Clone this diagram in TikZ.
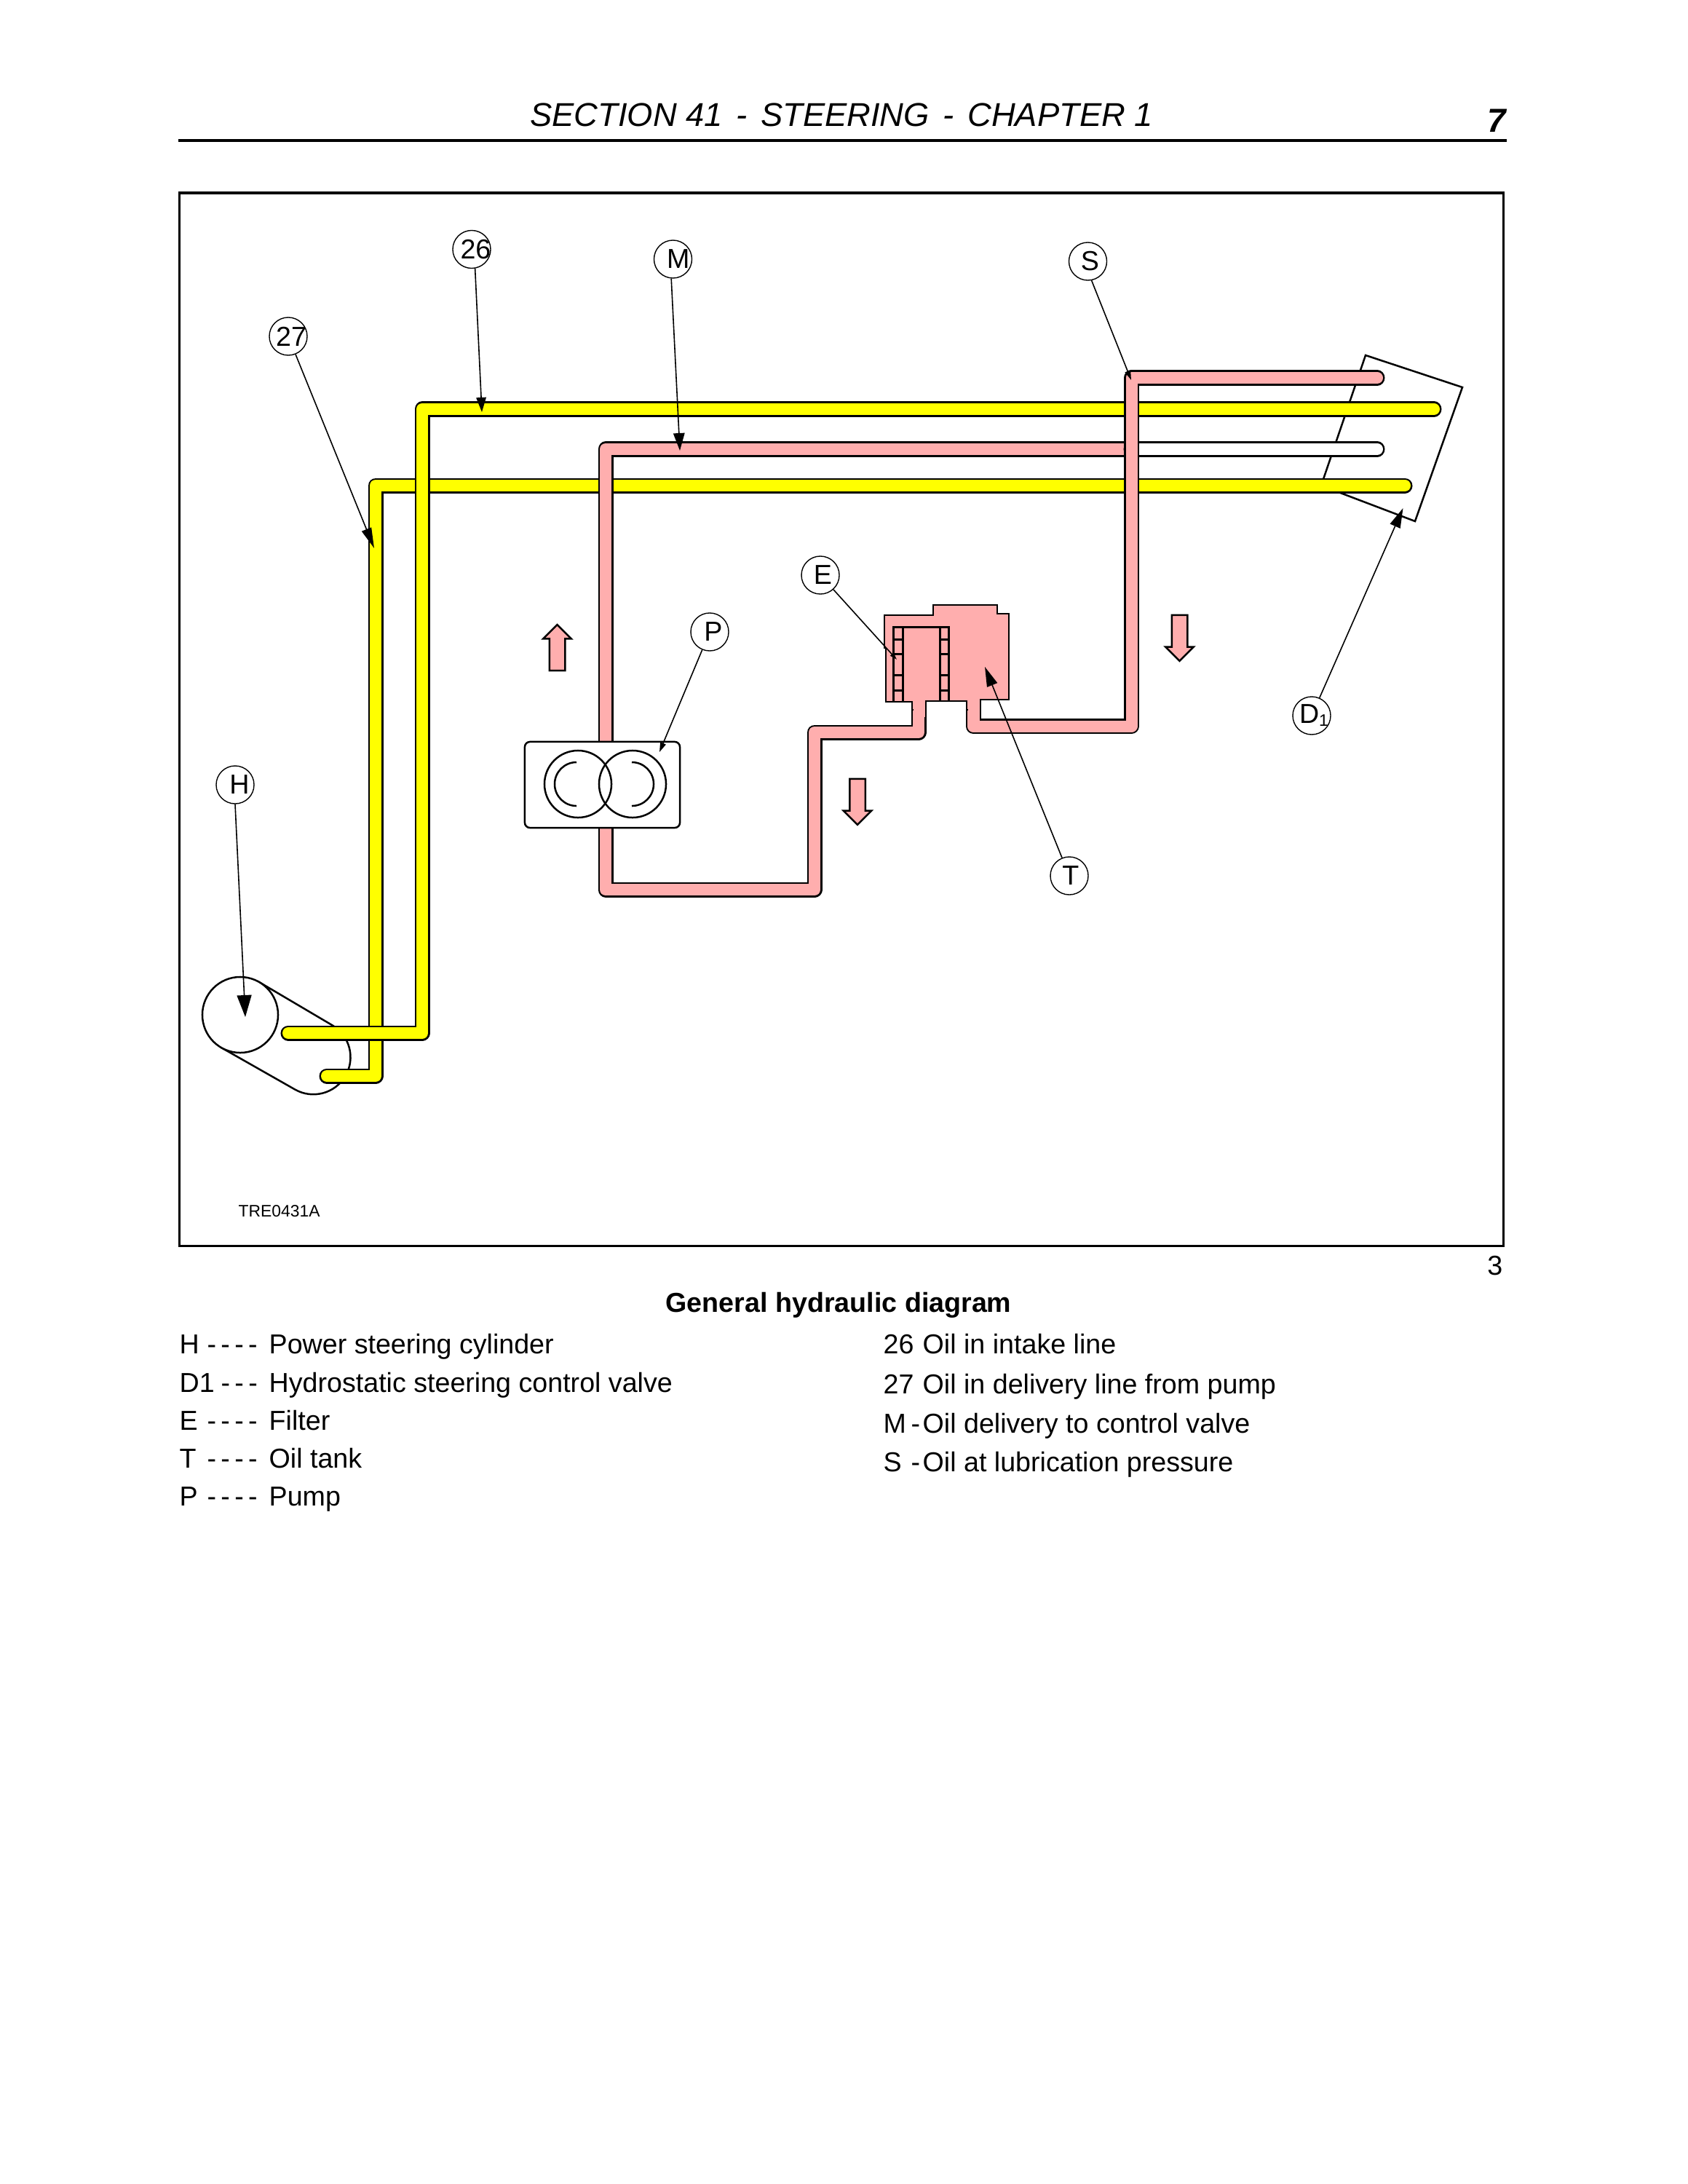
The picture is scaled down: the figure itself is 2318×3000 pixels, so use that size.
\documentclass[tikz,border=0pt]{standalone}
\usepackage{fontspec}
\setmainfont{Liberation Sans}
\usepackage{xcolor}
\usetikzlibrary{arrows.meta, positioning, shapes.arrows}
\definecolor{oilYellow}{RGB}{255,255,0}
\definecolor{oilPink}{RGB}{255,174,174}
\newcommand{\legendsize}{\fontsize{10.7}{12}\selectfont}
\newcommand{\calloutText}[2]{\makebox[0pt]{\hspace*{#1}\raisebox{-0.6pt}{#2}}}
\tikzset{
    pipeYellow/.style={line width=0.025cm, double=oilYellow, double distance=0.16cm, line cap=round, line join=round},
    pipePink/.style={line width=0.025cm, double=oilPink, double distance=0.16cm, line cap=round, line join=round},
    pipeWhite/.style={line width=0.025cm, double=white, double distance=0.16cm, line cap=round, line join=round},
    callout/.style={circle, draw, fill=white, line width=0.014cm, minimum size=0.52cm, inner sep=0pt, font=\legendsize},
    leader/.style 2 args={-{Triangle[length=#1,width=#2]}, line width=0.016cm},
    flowArrow/.style={single arrow, draw, fill=oilPink, line width=0.025cm, minimum height=0.63cm, minimum width=0.37cm,
        single arrow head extend=0.085cm, single arrow tip angle=90, single arrow head indent=0cm, inner sep=0.095cm},
    legendItem/.style={anchor=base west, inner sep=0pt, font=\legendsize},
    unitLine/.style={line width=0.025cm},
    filterLine/.style={line width=0.03cm}
}
\begin{document}
\begin{tikzpicture}[x=0.01cm, y=-0.01cm]
    \useasboundingbox (0,0) rectangle (2318,3000);
    % page head
    \node[anchor=base, inner sep=0pt, font=\fontsize{12.9}{15}\selectfont\itshape] (head) at (1156,173) {SECTION 41\hspace{1.7pt} - \hspace{1.7pt}STEERING\hspace{1.7pt} - \hspace{1.7pt}CHAPTER 1};
    \node[anchor=base east, inner sep=0pt, font=\fontsize{13}{15}\selectfont\bfseries\itshape] (pageNo) at (2070,182) {7};
    \draw[line width=0.04cm] (245,193) -- (2070,193);
    \draw[line width=0.03cm] (246,265) rectangle (2065,1711);
    \node[anchor=base east, inner sep=0pt, font=\legendsize] (figNo) at (2065,1751) {3};
    \node[anchor=base west, inner sep=0pt, font=\fontsize{6.5}{8}\selectfont] (figCode) at (327,1671) {TRE0431A};

    % pipe ends
    \coordinate (cyl26) at (396,1419);
    \coordinate (cyl27) at (449,1478);
    \coordinate (valve26) at (1970,562);
    \coordinate (valve27) at (1930,667);
    \coordinate (valveM) at (1892,617);
    \coordinate (valveS) at (1892,519);
    \coordinate (pumpOut) at (832,1030);
    \coordinate (pumpIn) at (832,1125);
    \coordinate (tankIn) at (1262,955);
    \coordinate (tankOut) at (1337,955);

    % power steering cylinder
    \draw[unitLine, fill=white] (356,1349) -- (456,1408) arc[start angle=60, end angle=-120, radius=0.51cm] -- (304,1439) -- cycle;
    \node[circle, draw, fill=white, line width=0.025cm, minimum size=1.04cm, inner sep=0pt] (cylinder) at (330,1394) {};

    % control valve
    \draw[unitLine] (1876,488) -- (2009,532) -- (1944,716) -- (1815,667) -- cycle;

    % lines
    \draw[pipeYellow] (cyl27) -- (516,1478) -- (516,667) -- (valve27);
    \draw[pipeYellow] (cyl26) -- (580,1419) -- (580,562) -- (valve26);
    \draw[pipePink] (pumpOut) -- (832,617) -- (1554,617);
    \draw[pipeWhite] (1554,617) -- (valveM);
    \draw[pipePink] (tankOut) -- (1337,997.5) -- (1554.5,997.5) -- (1554.5,519) -- (valveS);
    \draw[pipePink] (pumpIn) -- (832,1222) -- (1119,1222) -- (1119,1006) -- (1262,1006) -- (tankIn);

    % pump
    \node[rectangle, draw, fill=white, rounded corners=2pt, line width=0.025cm, minimum width=2.13cm, minimum height=1.18cm, inner sep=0pt] (pump) at (827.5,1078) {};
    \draw[unitLine] (794,1077) circle[radius=0.46cm];
    \draw[unitLine] (869,1077) circle[radius=0.46cm];
    \draw[unitLine] (792,1047) arc[start angle=90, end angle=270, radius=0.30cm];
    \draw[unitLine] (868,1047) arc[start angle=90, end angle=-90, radius=0.30cm];

    % oil tank and filter
    \draw[unitLine, fill=oilPink] (1215,845) -- (1282,845) -- (1282,831) -- (1370,831) -- (1370,843) -- (1386,843) -- (1386,961)
        -- (1347,961) -- (1347,975) -- (1328,975) -- (1328,963) -- (1272,963) -- (1272,975) -- (1253,975) -- (1253,964) -- (1217,964) -- (1217,890) -- (1215,890) -- cycle;
    \fill[oilPink] (1254.5,955) rectangle (1270.5,985);
    \fill[oilPink] (1329.5,955) rectangle (1345.5,990);
    \draw[filterLine] (1227,963) -- (1227,861) -- (1303,861) -- (1303,963);
    \draw[filterLine] (1240,861) -- (1240,963);
    \draw[filterLine] (1291,861) -- (1291,963);
    \draw[filterLine] (1227,878) -- (1240,878);
    \draw[filterLine] (1227,898) -- (1240,898);
    \draw[filterLine] (1227,927) -- (1240,927);
    \draw[filterLine] (1227,948) -- (1240,948);
    \draw[filterLine] (1291,878) -- (1303,878);
    \draw[filterLine] (1291,898) -- (1303,898);
    \draw[filterLine] (1291,927) -- (1303,927);
    \draw[filterLine] (1291,948) -- (1303,948);

    % flow direction
    \node[flowArrow, rotate=90] (flowUp) at (765.5,895) {};
    \node[flowArrow, rotate=-90] (flowDownLeft) at (1178,1096) {};
    \node[flowArrow, rotate=-90] (flowDownRight) at (1620.5,871) {};

    % callouts
    \node[callout] (n26) at (648,342.5) {\calloutText{3.1pt}{26}};
    \node[callout] (n27) at (396,462) {\calloutText{2.3pt}{27}};
    \node[callout] (nM) at (924.5,356) {\calloutText{4.2pt}{M}};
    \node[callout] (nS) at (1494.5,359) {\calloutText{1.7pt}{S}};
    \node[callout] (nE) at (1127,790) {\calloutText{2pt}{E}};
    \node[callout] (nP) at (975,868) {\calloutText{2.8pt}{P}};
    \node[callout] (nT) at (1469,1203) {\calloutText{1.1pt}{T}};
    \node[callout] (nH) at (323,1078) {\calloutText{3.4pt}{H}};
    \node[callout] (nD) at (1802,983) {\calloutText{1.7pt}{D\raisebox{-0.2ex}{\fontsize{6.5}{7}\selectfont 1}}};
    \coordinate (tip26) at (662,566);
    \coordinate (tip27) at (514,753);
    \coordinate (tipM) at (934,619);
    \coordinate (tipS) at (1554,522);
    \coordinate (tipE) at (1232,906);
    \coordinate (tipP) at (906,1033);
    \coordinate (tipT) at (1353,916);
    \coordinate (tipH) at (337,1397);
    \coordinate (tipD) at (1927.5,698);
    \draw[leader={2mm}{1.35mm}] (n26.-80) -- (tip26);
    \draw[leader={2.8mm}{1.4mm}] (n27) -- (tip27);
    \draw[leader={2.4mm}{1.55mm}] (nM.-95) -- (tipM);
    \draw[leader={1.3mm}{0.8mm}] (nS.-79) -- (tipS);
    \draw[leader={1mm}{0.6mm}] (nE) -- (tipE);
    \draw[leader={1.3mm}{0.8mm}] (nP) -- (tipP);
    \draw[leader={2.7mm}{1.5mm}] (nT) -- (tipT);
    \draw[leader={3mm}{2mm}] (nH.south) -- (tipH);
    \draw[leader={2.7mm}{1.5mm}] (nD) -- (tipD);

    % caption and legend
    \node[legendItem, font=\legendsize\bfseries] (caption) at (914,1802) {General hydraulic diagram};
    \node[legendItem] (keyH) at (246,1859) {H};
    \node[legendItem] (dashH) at (284,1859) {-\,-\,-\,-};
    \node[legendItem] (textH) at (369,1859) {Power steering cylinder};
    \node[legendItem] (keyD) at (246,1912) {D1};
    \node[legendItem] (dashD) at (303,1912) {-\,-\,-};
    \node[legendItem] (textD) at (369,1912) {Hydrostatic steering control valve};
    \node[legendItem] (keyE) at (246,1964) {E};
    \node[legendItem] (dashE) at (284,1964) {-\,-\,-\,-};
    \node[legendItem] (textE) at (369,1964) {Filter};
    \node[legendItem] (keyT) at (246,2016) {T};
    \node[legendItem] (dashT) at (284,2016) {-\,-\,-\,-};
    \node[legendItem] (textT) at (369,2016) {Oil tank};
    \node[legendItem] (keyP) at (246,2068) {P};
    \node[legendItem] (dashP) at (284,2068) {-\,-\,-\,-};
    \node[legendItem] (textP) at (369,2068) {Pump};
    \node[legendItem] (key26) at (1213,1859) {26};
    \node[legendItem] (text26) at (1267,1859) {Oil in intake line};
    \node[legendItem] (key27) at (1213,1914) {27};
    \node[legendItem] (text27) at (1267,1914) {Oil in delivery line from pump};
    \node[legendItem] (keyM) at (1213,1968) {M};
    \node[legendItem] (dashM) at (1251,1968) {-};
    \node[legendItem] (textM) at (1267,1968) {Oil delivery to control valve};
    \node[legendItem] (keyS) at (1213,2021) {S};
    \node[legendItem] (dashS) at (1251,2021) {-};
    \node[legendItem] (textS) at (1267,2021) {Oil at lubrication pressure};
\end{tikzpicture}
\end{document}
